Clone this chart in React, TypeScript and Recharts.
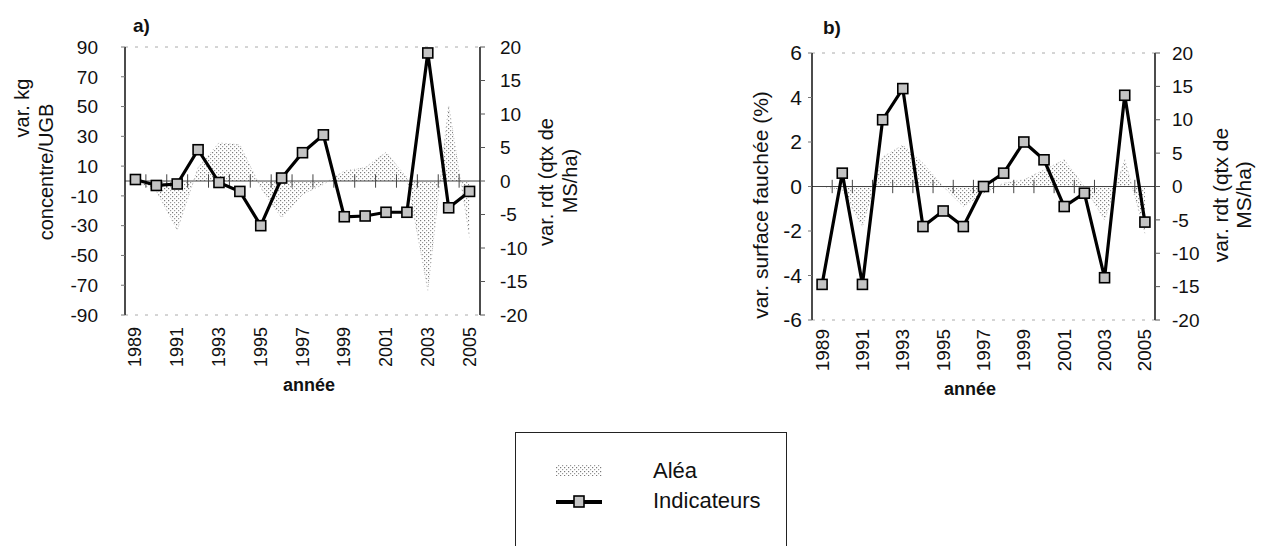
import { Area, ComposedChart, Label, Legend, Line, ReferenceLine, XAxis, YAxis } from "recharts";

const police = "'Liberation Sans', Arial, sans-serif";

const annees = [1989, 1990, 1991, 1992, 1993, 1994, 1995, 1996, 1997, 1998, 1999, 2000, 2001, 2002, 2003, 2004, 2005];
const ticksAnnees = [1989, 1991, 1993, 1995, 1997, 1999, 2001, 2003, 2005];
const limitesAnnees = [1989.5, 1990.5, 1991.5, 1992.5, 1993.5, 1994.5, 1995.5, 1996.5, 1997.5, 1998.5, 1999.5, 2000.5, 2001.5, 2002.5, 2003.5, 2004.5];

// a) concentrés (axe gauche) et aléa rendement (axe droit)
const aleaA = [0, -1.5, -7.3, 2, 5.7, 5.4, -1, -5.5, -2, -0.5, 1.5, 2, 4.3, 0.5, -16.3, 11.3, -8.4];
const indicA = [1, -3, -2, 21, -1, -7, -30, 2, 19, 31, -24, -23.5, -21, -21, 86, -18, -7];
// b) surface fauchée (axe gauche) et aléa rendement (axe droit)
const aleaB = [0, -0.5, -6, 4.4, 6.2, 3.5, 0, -3, -1, 0.5, 1, 2.5, 4, 0, -5, 4, -7];
const indicB = [-4.4, 0.6, -4.4, 3.0, 4.4, -1.8, -1.1, -1.8, 0, 0.6, 2.0, 1.2, -0.9, -0.3, -4.1, 4.1, -1.6];

const ticksKg = [-90, -70, -50, -30, -10, 10, 30, 50, 70, 90];
const ticksRdt = [-20, -15, -10, -5, 0, 5, 10, 15, 20];
const ticksSurface = [-6, -4, -2, 0, 2, 4, 6];

const dataA = annees.map((annee, i) => ({ annee, alea: aleaA[i], indic: indicA[i] }));
const dataB = annees.map((annee, i) => ({ annee, alea: aleaB[i], indic: indicB[i] }));

type Ligne = { t: string; x: number; y: number };

function TitreAxe({ lignes, size = 20 }: { lignes: Ligne[]; size?: number }) {
  return (
    <g>
      {lignes.map((l) => (
        <text
          key={l.t}
          x={l.x}
          y={l.y}
          transform={`rotate(-90 ${l.x} ${l.y})`}
          textAnchor="middle"
          dominantBaseline="central"
          fontSize={size}
          fontFamily={police}
          fill="#111"
        >
          {l.t}
        </text>
      ))}
    </g>
  );
}

function TickAnnee(props: any) {
  const { x, y, payload, size } = props;
  return (
    <text
      x={x}
      y={y}
      transform={`rotate(-90 ${x} ${y})`}
      textAnchor="end"
      dominantBaseline="central"
      fontSize={size}
      fontFamily={police}
      fill="#111"
    >
      {payload.value}
    </text>
  );
}

function Carre(props: any) {
  const { cx, cy, index } = props;
  return (
    <rect key={index} x={cx - 5} y={cy - 5} width={10} height={10} fill="#c4c4c4" stroke="#000" strokeWidth={1.6} />
  );
}

function Motif({ id }: { id: string }) {
  return (
    <defs>
      <pattern id={id} width={4} height={4} patternUnits="userSpaceOnUse">
        <rect x={0} y={0} width={1.2} height={1.2} fill="#7a7a7a" />
        <rect x={2} y={2} width={1.2} height={1.2} fill="#9a9a9a" />
      </pattern>
    </defs>
  );
}

function Legende(props: any) {
  const payload = props.payload || [];
  return (
    <div
      style={{
        border: "1px solid #222",
        width: 272,
        height: 130,
        boxSizing: "border-box",
        position: "relative",
        fontFamily: police,
        fontSize: 22,
        color: "#111",
      }}
    >
      {payload.map((p: any, i: number) => (
        <div key={p.value} style={{ position: "absolute", left: 40, top: 26 + i * 30, display: "flex", alignItems: "center" }}>
          <svg width={48} height={16}>
            {p.dataKey === "alea" ? (
              <>
                <Motif id="motif-legende" />
                <rect x={0} y={2} width={46} height={11} fill="url(#motif-legende)" />
              </>
            ) : (
              <>
                <line x1={0} y1={9} x2={46} y2={9} stroke="#000" strokeWidth={4} />
                <rect x={18} y={3} width={10} height={11} fill="#c4c4c4" stroke="#000" strokeWidth={1.6} />
              </>
            )}
          </svg>
          <span style={{ marginLeft: 49, lineHeight: "24px" }}>{p.value}</span>
        </div>
      ))}
    </div>
  );
}

export default function App() {
  return (
    <div style={{ position: "absolute", left: 0, top: 0, width: 1264, height: 546, background: "#fff" }}>
      <div style={{ position: "absolute", left: 0, top: 0 }}>
        <ComposedChart width={600} height={546} data={dataA} margin={{ top: 47, right: 0, bottom: 136, left: 0 }}>
          <Motif id="motif-a" />
          <XAxis
            dataKey="annee"
            type="number"
            domain={[1988.5, 2005.5]}
            ticks={ticksAnnees}
            axisLine={false}
            tickLine={false}
            tickSize={0}
            tickMargin={12}
            height={95}
            tick={<TickAnnee size={18} />}
          >
            <Label
              content={() => (
                <text x={309} y={391} textAnchor="middle" fontSize={18} fontWeight="bold" fontFamily={police} fill="#111">
                  année
                </text>
              )}
            />
          </XAxis>
          <YAxis
            yAxisId="left"
            domain={[-90, 90]}
            ticks={ticksKg}
            width={125}
            tickSize={4}
            tickMargin={23}
            axisLine={{ stroke: "#111", strokeWidth: 1.5 }}
            tickLine={{ stroke: "#777" }}
            tick={{ fontSize: 19, fill: "#111", fontFamily: police }}
          >
            <Label
              content={() => (
                <TitreAxe
                  lignes={[
                    { t: "var. kg", x: 22, y: 108 },
                    { t: "concentre/UGB", x: 46, y: 172 },
                  ]}
                />
              )}
            />
          </YAxis>
          <YAxis
            yAxisId="right"
            orientation="right"
            domain={[-20, 20]}
            ticks={ticksRdt}
            width={120}
            tickSize={5}
            tickMargin={15}
            axisLine={{ stroke: "#111", strokeWidth: 1.5 }}
            tickLine={{ stroke: "#555" }}
            tick={{ fontSize: 19, fill: "#111", fontFamily: police, textAnchor: "start" }}
          >
            <Label
              content={() => (
                <TitreAxe
                  lignes={[
                    { t: "var. rdt (qtx de", x: 546, y: 182 },
                    { t: "MS/ha)", x: 570, y: 181 },
                  ]}
                />
              )}
            />
          </YAxis>
          <ReferenceLine yAxisId="left" y={90} stroke="#aaa" strokeDasharray="3 7" />
          <ReferenceLine yAxisId="left" y={-90} stroke="#aaa" strokeDasharray="3 7" />
          <Area
            yAxisId="right"
            dataKey="alea"
            name="Aléa"
            type="linear"
            stroke="#bbb"
            strokeWidth={1}
            strokeDasharray="1 3"
            fill="url(#motif-a)"
            fillOpacity={1}
            isAnimationActive={false}
          />
          <ReferenceLine yAxisId="left" y={0} stroke="#444" strokeWidth={1} />
          {limitesAnnees.map((a) => (
            <ReferenceLine
              key={a}
              yAxisId="left"
              segment={[
                { x: a, y: -4.5 },
                { x: a, y: 4.5 },
              ]}
              stroke="#444"
            />
          ))}
          <Line
            yAxisId="left"
            dataKey="indic"
            name="Indicateurs"
            type="linear"
            stroke="#000"
            strokeWidth={3.2}
            dot={<Carre />}
            activeDot={false}
            isAnimationActive={false}
          />
          <Legend
            layout="vertical"
            align="center"
            verticalAlign="middle"
            wrapperStyle={{ position: "absolute", left: 515, top: 432, width: 272, height: 130 }}
            content={<Legende />}
          />
          <text x={133} y={32} fontSize={19} fontWeight="bold" fontFamily={police} fill="#111">
            a)
          </text>
        </ComposedChart>
      </div>

      <div style={{ position: "absolute", left: 700, top: 0 }}>
        <ComposedChart width={564} height={546} data={dataB} margin={{ top: 53, right: 0, bottom: 136, left: 0 }}>
          <Motif id="motif-b" />
          <XAxis
            dataKey="annee"
            type="number"
            domain={[1988.5, 2005.5]}
            ticks={ticksAnnees}
            axisLine={false}
            tickLine={false}
            tickSize={0}
            tickMargin={9}
            height={90}
            tick={<TickAnnee size={19} />}
          >
            <Label
              content={() => (
                <text x={270} y={395} textAnchor="middle" fontSize={18} fontWeight="bold" fontFamily={police} fill="#111">
                  année
                </text>
              )}
            />
          </XAxis>
          <YAxis
            yAxisId="left"
            domain={[-6, 6]}
            ticks={ticksSurface}
            width={112}
            tickSize={4}
            tickMargin={6}
            axisLine={{ stroke: "#111", strokeWidth: 1.5 }}
            tickLine={{ stroke: "#777" }}
            tick={{ fontSize: 21, fill: "#111", fontFamily: police }}
          >
            <Label content={() => <TitreAxe lignes={[{ t: "var. surface fauchée (%)", x: 60, y: 205 }]} size={21} />} />
          </YAxis>
          <YAxis
            yAxisId="right"
            orientation="right"
            domain={[-20, 20]}
            ticks={ticksRdt}
            width={109}
            tickSize={5}
            tickMargin={12}
            axisLine={{ stroke: "#111", strokeWidth: 1.5 }}
            tickLine={{ stroke: "#555" }}
            tick={{ fontSize: 19, fill: "#111", fontFamily: police, textAnchor: "start" }}
          >
            <Label
              content={() => (
                <TitreAxe
                  lignes={[
                    { t: "var. rdt (qtx de", x: 520, y: 195 },
                    { t: "MS/ha)", x: 543, y: 195 },
                  ]}
                  size={21}
                />
              )}
            />
          </YAxis>
          <ReferenceLine yAxisId="left" y={6} stroke="#aaa" strokeDasharray="3 7" />
          <ReferenceLine yAxisId="left" y={-6} stroke="#aaa" strokeDasharray="3 7" />
          <Area
            yAxisId="right"
            dataKey="alea"
            name="Aléa"
            type="linear"
            stroke="#bbb"
            strokeWidth={1}
            strokeDasharray="1 3"
            fill="url(#motif-b)"
            fillOpacity={1}
            isAnimationActive={false}
          />
          <ReferenceLine yAxisId="left" y={0} stroke="#444" strokeWidth={1} />
          {limitesAnnees.map((a) => (
            <ReferenceLine
              key={a}
              yAxisId="left"
              segment={[
                { x: a, y: -0.3 },
                { x: a, y: 0.3 },
              ]}
              stroke="#444"
            />
          ))}
          <Line
            yAxisId="left"
            dataKey="indic"
            name="Indicateurs"
            type="linear"
            stroke="#000"
            strokeWidth={3.2}
            dot={<Carre />}
            activeDot={false}
            isAnimationActive={false}
          />
          <text x={123} y={34} fontSize={19} fontWeight="bold" fontFamily={police} fill="#111">
            b)
          </text>
        </ComposedChart>
      </div>
    </div>
  );
}
